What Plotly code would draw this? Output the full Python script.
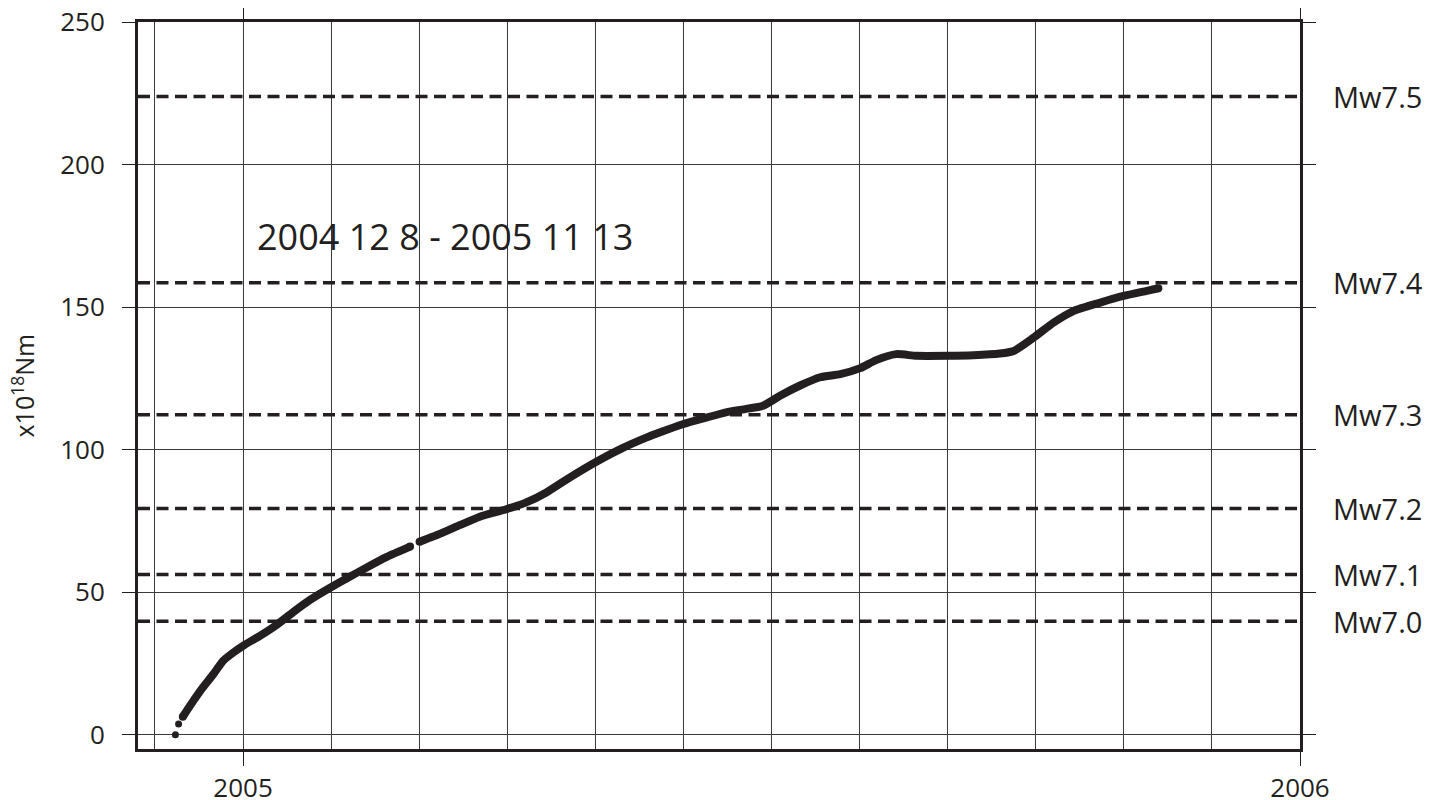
import plotly.graph_objects as go

# ---- data ----
# decimal year / cumulative moment (x10^18 Nm)
start_x = [2004.936, 2004.939]
start_y = [0.0, 3.8]

seg1_x = [2004.943, 2004.953, 2004.962, 2004.972, 2004.981, 2004.991, 2005.000,
          2005.016, 2005.032, 2005.047, 2005.063, 2005.084, 2005.098, 2005.117,
          2005.136, 2005.158]
seg1_y = [6.3, 11.9, 16.6, 21.3, 25.9, 28.9, 31.2,
          34.7, 38.6, 42.9, 47.2, 51.9, 54.8, 58.7,
          62.4, 66.0]

seg2_x = [2005.167, 2005.189, 2005.205, 2005.224, 2005.249, 2005.268, 2005.287,
          2005.309, 2005.333, 2005.357, 2005.382, 2005.394, 2005.416, 2005.439,
          2005.457, 2005.476, 2005.492, 2005.508, 2005.527, 2005.546, 2005.565,
          2005.584, 2005.599, 2005.618, 2005.637, 2005.666, 2005.691, 2005.716,
          2005.729, 2005.748, 2005.767, 2005.786, 2005.811, 2005.833, 2005.855,
          2005.866]
seg2_y = [67.7, 70.9, 73.5, 76.5, 79.1, 81.5, 85.0,
          90.2, 95.5, 100.2, 104.3, 106.0, 108.9, 111.3,
          113.1, 114.3, 115.4, 118.9, 122.5, 125.4, 126.5,
          128.6, 131.4, 133.5, 132.9, 132.9, 133.1, 133.7,
          134.6, 139.3, 144.6, 148.7, 151.6, 153.9, 155.7,
          156.6]

mw_labels = ["Mw7.0", "Mw7.1", "Mw7.2", "Mw7.3", "Mw7.4", "Mw7.5"]
mw_values = [39.8, 56.2, 79.4, 112.2, 158.5, 223.9]

y_ticks = [0, 50, 100, 150, 200, 250]
x_ticks = [2005, 2006]
x_ticktext = ["2005", "2006"]

period_text = "2004 12 8 - 2005 11 13"

INK = "#231f20"
GRID = "#3a3a3a"
FONT = "Open Sans"

fig = go.Figure()

# curve segments
for sx, sy in ((seg1_x, seg1_y), (seg2_x, seg2_y)):
    fig.add_trace(go.Scatter(
        x=sx, y=sy, mode="lines",
        line=dict(color=INK, width=8, shape="spline", smoothing=0.6),
        showlegend=False, hoverinfo="skip"))
    fig.add_trace(go.Scatter(
        x=[sx[0], sx[-1]], y=[sy[0], sy[-1]], mode="markers",
        marker=dict(color=INK, size=8),
        showlegend=False, hoverinfo="skip"))
fig.add_trace(go.Scatter(
    x=start_x, y=start_y, mode="markers",
    marker=dict(color=INK, size=7),
    showlegend=False, hoverinfo="skip"))

# magnitude reference lines and labels
for lab, val in zip(mw_labels, mw_values):
    fig.add_shape(type="line", xref="paper", x0=0, x1=1, yref="y", y0=val, y1=val,
                  line=dict(color=INK, width=3.5, dash="12px,6.5px"), layer="above")
    fig.add_annotation(x=1, xref="paper", y=val, yref="y", text=lab,
                       xanchor="left", yanchor="middle", xshift=31, showarrow=False,
                       font=dict(family=FONT, size=29, color=INK))

fig.add_annotation(x=0.1007, xref="paper", y=174.6, yref="y", text=period_text,
                   xanchor="left", yanchor="middle", showarrow=False,
                   font=dict(family=FONT, size=36, color=INK))

fig.add_annotation(x=0, xref="paper", y=0.5, yref="paper", text="x10<sup>18</sup>Nm",
                   textangle=-90, xanchor="center", yanchor="middle", xshift=-115,
                   yshift=0, showarrow=False,
                   font=dict(family=FONT, size=25, color=INK))

fig.update_xaxes(
    range=[2004.9006, 2006.0], tickvals=x_ticks, ticktext=x_ticktext,
    ticks="outside", ticklen=14, tickwidth=1, tickcolor=INK,
    showline=True, linewidth=3, linecolor=INK, mirror="ticks",
    showgrid=True, gridcolor=GRID, gridwidth=1, zeroline=False,
    minor=dict(dtick=1/12, tick0=2005, showgrid=True, gridcolor=GRID, gridwidth=1, ticks=""),
    tickfont=dict(family=FONT, size=26, color=INK), ticklabelstandoff=0,
    ticklabeloverflow="allow", automargin=False,
)
fig.update_yaxes(
    range=[-5, 250], tickvals=y_ticks,
    ticks="outside", ticklen=13, tickwidth=1, tickcolor=INK,
    showline=True, linewidth=3, linecolor=INK, mirror="ticks",
    showgrid=True, gridcolor=GRID, gridwidth=1, zeroline=False,
    tickfont=dict(family=FONT, size=26, color=INK), ticklabelstandoff=12,
    ticklabeloverflow="allow", automargin=False,
)

# page body has an 8px default margin: size the figure to fill the rest of the window
fig.update_layout(
    width=1426, height=792,
    margin=dict(l=130, r=134, t=14, b=51),
    paper_bgcolor="white", plot_bgcolor="white",
    showlegend=False,
)

fig.write_html("out.html")
